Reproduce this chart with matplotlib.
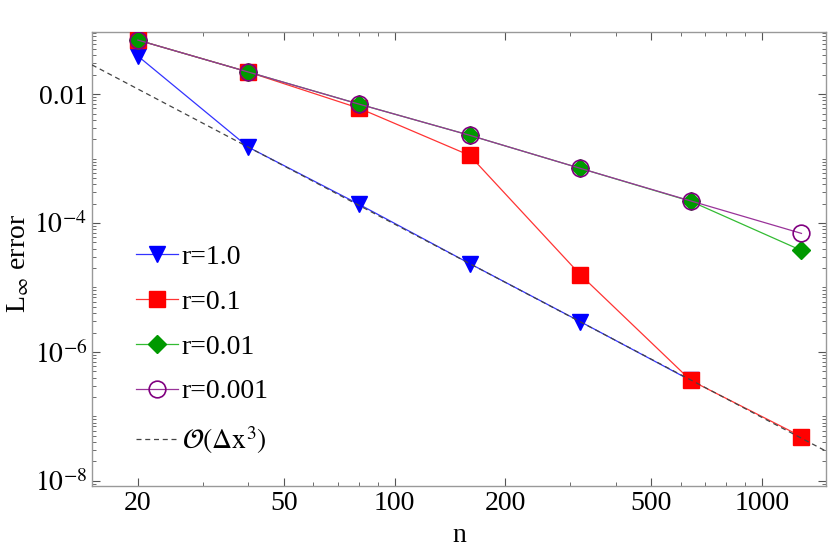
import numpy as np
import matplotlib
matplotlib.use("Agg")
import matplotlib.pyplot as plt
from matplotlib.ticker import FixedLocator, FixedFormatter, NullFormatter

plt.rcParams['font.family'] = ['Liberation Serif', 'DejaVu Serif']
plt.rcParams['mathtext.fontset'] = 'stix'

# grid sizes
n = [20, 40, 80, 160, 320, 640, 1280]

# L-infinity errors
err_r1 = [3.9e-2, 1.5e-3, 1.95e-4, 2.35e-5, 2.95e-6, 3.6e-7]
err_r01 = [6.9e-2, 2.2e-2, 6.05e-3, 1.12e-3, 1.58e-5, 3.6e-7, 4.85e-8]
err_r001 = [6.9e-2, 2.2e-2, 7.0e-3, 2.3e-3, 7.06e-4, 2.17e-4, 3.75e-5]
err_r0001 = [6.9e-2, 2.2e-2, 7.0e-3, 2.3e-3, 7.06e-4, 2.2e-4, 6.9e-5]

# reference third order slope
c3 = 96.0
n_ref = [15, 1500]

x_ticks = [20, 50, 100, 200, 500, 1000]
y_ticks = [1e-8, 1e-6, 1e-4, 1e-2]
y_labels = ['$10^{-8}$', '$10^{-6}$', '$10^{-4}$', '0.01']

fig = plt.figure(figsize=(8.3, 5.56), dpi=100)
ax = fig.add_axes([0.1108, 0.1259, 0.8844, 0.8165])

ax.plot(n_ref, [c3 / v**3 for v in n_ref], '--', color='#444444', lw=0.9,
        dashes=(4, 3), zorder=5, label=r'$\mathcal{O}(\Delta\mathrm{x}^3)$')
ax.plot(n[:len(err_r1)], err_r1, '-', color='#3333ff', lw=0.9, marker='v',
        ms=12, mfc='blue', mec='blue', zorder=3, label='r=1.0')
ax.plot(n, err_r01, '-', color='#ff3333', lw=0.9, marker='s',
        ms=11, mfc='red', mec='red', zorder=3, label='r=0.1')
ax.plot(n, err_r001, '-', color='#33bb33', lw=0.9, marker='D',
        ms=9.5, mfc='#009900', mec='#009900', zorder=4, label='r=0.01')
ax.plot(n, err_r0001, '-', color='#993399', lw=0.9, marker='o',
        ms=12, mfc='none', mec='#800080', mew=1.2, zorder=4.5, label='r=0.001')

ax.set_xscale('log')
ax.set_yscale('log')
ax.set_xlim(15, 1493)
ax.set_ylim(8.3e-9, 0.092)

ax.xaxis.set_major_locator(FixedLocator(x_ticks))
ax.xaxis.set_major_formatter(FixedFormatter([str(t) for t in x_ticks]))
x_minor = [30, 40, 60, 70, 80, 90, 300, 400, 600, 700, 800, 900]
ax.xaxis.set_minor_locator(FixedLocator(x_minor))
ax.xaxis.set_minor_formatter(NullFormatter())

ax.yaxis.set_major_locator(FixedLocator(y_ticks))
ax.yaxis.set_major_formatter(FixedFormatter(y_labels))
y_minor = [m * 10.0**e for e in range(-9, -1) for m in range(1, 10)]
y_minor = [v for v in y_minor if v not in y_ticks]
ax.yaxis.set_minor_locator(FixedLocator(y_minor))
ax.yaxis.set_minor_formatter(NullFormatter())

ax.tick_params(which='both', direction='in', top=True, right=True,
               color='#555555', labelsize=20)
ax.tick_params(which='major', length=6, width=0.8)
ax.tick_params(which='minor', length=3, width=0.6)
for s in ax.spines.values():
    s.set_color('#999999')
    s.set_linewidth(1.0)

ax.set_xlabel('n', fontsize=20, labelpad=5)
ax.set_ylabel(r'L$_\infty$ error', fontsize=20)
ax.yaxis.set_label_coords(-0.083, 0.49)

handles, labels = ax.get_legend_handles_labels()
order = [1, 2, 3, 4, 0]
leg = ax.legend([handles[i] for i in order], [labels[i] for i in order],
                loc='lower left', bbox_to_anchor=(0.045, 0.042), frameon=False,
                fontsize=20, handlelength=1.5, handletextpad=0.15,
                labelspacing=0.70, borderaxespad=0)

fig.savefig('out.png', dpi=100)
